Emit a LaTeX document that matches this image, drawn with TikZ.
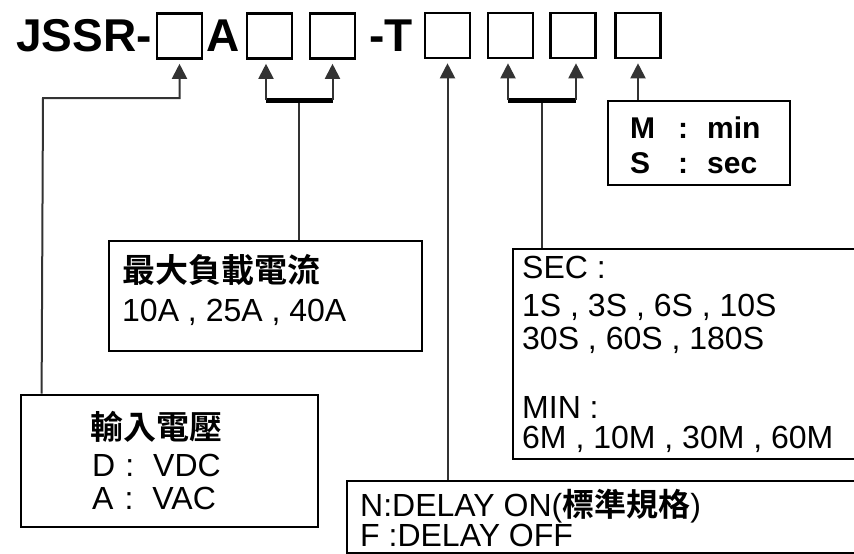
\documentclass[tikz,border=0pt]{standalone}
\usepackage{fontspec}
\setmainfont{Liberation Sans}
\newfontfamily\cjk{Noto Sans CJK TC Bold}
\usetikzlibrary{arrows.meta}
\begin{document}
\begin{tikzpicture}[x=1pt,y=-1pt,
  sq/.style={draw,line width=2.6pt,minimum width=45pt,minimum height=45pt,inner sep=0pt},
  frame/.style={draw,line width=2.8pt,inner sep=0pt},
  conn/.style={line width=2pt,draw=black!80},
  arr/.style={conn,-{Triangle[length=15pt,width=15pt]},shorten >=4pt},
  brk/.style={line width=5pt,draw=black},
  txt/.style={anchor=base west,inner sep=0pt},
  title/.style={txt,font=\fontsize{46}{46}\selectfont\bfseries},
  body/.style={txt,font=\fontsize{32}{34}\selectfont},
  cjkt/.style={txt,font=\fontsize{33}{34}\selectfont\cjk},
  mtxt/.style={txt,font=\fontsize{30}{34}\selectfont\bfseries},
]
\path[use as bounding box] (0,0) rectangle (854,554);
\clip (0,0) rectangle (854,554);
\fill[white] (0,0) rectangle (854,554);

% title line
\node[title] (t1) at (16,51) {JSSR-};
\node[sq] (b1) at (179.5,36) {};
\node[title] (t2) at (206,51) {A};
\node[sq] (b2) at (269.5,36) {};
\node[sq] (b3) at (332.5,36) {};
\node[title] (t3) at (369,51) {-T};
\node[sq] (b4) at (447.5,35.5) {};
\node[sq] (b5) at (510.5,35.5) {};
\node[sq] (b6) at (573,35.5) {};
\node[sq] (b7) at (638,35.5) {};

% boxes
\node[frame,minimum width=297pt,minimum height=132pt] (inbox) at (169.5,461) {};
\node[frame,minimum width=313pt,minimum height=110pt] (maxbox) at (265.5,296) {};
\node[frame,minimum width=357pt,minimum height=210pt] (secbox) at (691.5,354) {};
\node[frame,minimum width=523pt,minimum height=72pt] (nbox) at (608.5,517) {};
\node[frame,line width=2.6pt,minimum width=182pt,minimum height=84pt] (mbox) at (699,143) {};

% texts
\node[cjkt] (in1) at (90,439) {輸入電壓};
\node[body] (in2) at (92,476) {D\hskip 10pt:\hskip 19pt VDC};
\node[body] (in3) at (92,509) {A\hskip 11pt:\hskip 19pt VAC};

\node[cjkt] (mx1) at (122,282) {最大負載電流};
\node[body] (mx2) at (122,321) {10A , 25A , 40A};

\node[body] (s1) at (522,278) {SEC :};
\node[body] (s2) at (522,316) {1S , 3S , 6S , 10S};
\node[body] (s3) at (522,349) {30S , 60S , 180S};
\node[body] (s4) at (522,418) {MIN :};
\node[body] (s5) at (522,448) {6M , 10M , 30M , 60M};

\node[body] (n1) at (360,516) {N:DELAY ON({\cjk 標準規格})};
\node[body] (n2) at (360,546) {F :DELAY OFF};

\node[mtxt] (m1) at (630,138) {M\hskip 23pt:\hskip 19pt min};
\node[mtxt] (m2) at (630,173) {S\hskip 28pt:\hskip 19pt sec};

% connectors
\coordinate (k1) at (43,98);
\draw[arr] ([xshift=22pt]inbox.north west) -- (k1) -| (b1.south);

\coordinate (k2) at (299,100);
\draw[conn] (maxbox.north -| k2) -- (k2);
\draw[brk] ([xshift=-3.5pt]b2.south |- k2) -- (b3.south |- k2);
\draw[arr] ([xshift=-3.5pt]b2.south |- k2) -- ([xshift=-3.5pt]b2.south);
\draw[arr] (b3.south |- k2) -- (b3.south);

\draw[arr] (nbox.north -| b4.south) -- (b4.south);

\coordinate (k3) at (542,100);
\draw[conn] (secbox.north -| k3) -- (k3);
\draw[brk] ([xshift=-2.5pt]b5.south |- k3) -- ([xshift=3pt]b6.south |- k3);
\draw[arr] ([xshift=-2.5pt]b5.south |- k3) -- ([xshift=-2.5pt]b5.south);
\draw[arr] ([xshift=3pt]b6.south |- k3) -- ([xshift=3pt]b6.south);

\draw[arr] (mbox.north -| b7.south) -- (b7.south);
\end{tikzpicture}
\end{document}
